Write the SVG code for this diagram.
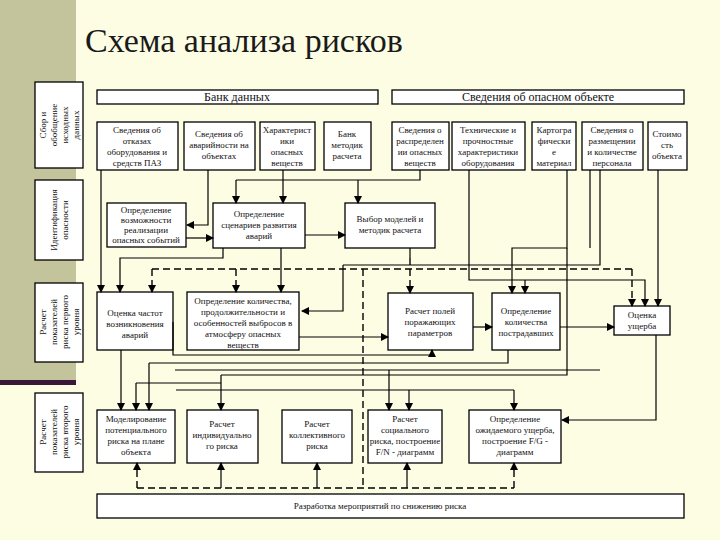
<svg xmlns="http://www.w3.org/2000/svg" width="720" height="540" viewBox="0 0 720 540">
<defs>
<marker id="ar" markerWidth="8" markerHeight="8" refX="7" refY="4" orient="auto" markerUnits="userSpaceOnUse"><path d="M0,0 L8,4 L0,8 Z" fill="#000"/></marker>
<style>
text{font-family:"Liberation Serif","Times New Roman","DejaVu Serif",serif}
.b{fill:#fff;stroke:#000;stroke-width:1.3}
.t{font-size:9px;fill:#111;text-anchor:middle}
.h{font-size:12px;fill:#111;text-anchor:middle}
.s{fill:none;stroke:#000;stroke-width:1.2}
.d{fill:none;stroke:#000;stroke-width:1.4;stroke-dasharray:7,4}
.a{marker-end:url(#ar)}
</style>
</defs>
<rect width="720" height="540" fill="#fdfde4"/>
<rect x="0" y="0" width="76" height="383" fill="#c4c49c"/>
<rect x="0" y="380" width="76" height="5" fill="#3a1838"/>
<text x="85" y="52" font-size="34" fill="#1a1a1a">Схема анализа рисков</text>
<g id="side">
<rect class="b" x="35" y="82" width="48" height="86"/>
<text class="t" transform="translate(59,125) rotate(-90)"><tspan x="0" y="-13">Сбор и</tspan><tspan x="0" y="-2">обобщение</tspan><tspan x="0" y="9">исходных</tspan><tspan x="0" y="20">данных</tspan></text>
<rect class="b" x="35" y="180" width="48" height="80"/>
<text class="t" transform="translate(59,220) rotate(-90)"><tspan x="0" y="-2">Идентификация</tspan><tspan x="0" y="9">опасности</tspan></text>
<rect class="b" x="35" y="283" width="48" height="79"/>
<text class="t" transform="translate(59,322) rotate(-90)"><tspan x="0" y="-13">Расчет</tspan><tspan x="0" y="-2">показателей</tspan><tspan x="0" y="9">риска первого</tspan><tspan x="0" y="20">уровня</tspan></text>
<rect class="b" x="35" y="393" width="48" height="79"/>
<text class="t" transform="translate(59,432) rotate(-90)"><tspan x="0" y="-13">Расчет</tspan><tspan x="0" y="-2">показателей</tspan><tspan x="0" y="9">риска второго</tspan><tspan x="0" y="20">уровня</tspan></text>
</g>
<g id="bank"><rect class="b" x="97" y="90" width="281" height="14"/><text class="h" x="237" y="101">Банк данных</text></g>
<g id="obj"><rect class="b" x="392" y="90" width="292" height="14"/><text class="h" x="538" y="101">Сведения об опасном объекте</text></g>
<g id="n1"><rect class="b" x="97" y="122" width="81" height="48"/><text class="t"><tspan x="137" y="133">Сведения об</tspan><tspan x="137" y="144">отказах</tspan><tspan x="137" y="155">оборудования и</tspan><tspan x="137" y="166">средств ПАЗ</tspan></text></g>
<g id="n2"><rect class="b" x="184" y="122" width="71" height="48"/><text class="t"><tspan x="219" y="137">Сведения об</tspan><tspan x="219" y="148">аварийности на</tspan><tspan x="219" y="159">объектах</tspan></text></g>
<g id="n3"><rect class="b" x="260" y="122" width="55" height="48"/><text class="t"><tspan x="287" y="133">Характерист</tspan><tspan x="287" y="144">ики</tspan><tspan x="287" y="155">опасных</tspan><tspan x="287" y="166">веществ</tspan></text></g>
<g id="n4"><rect class="b" x="324" y="122" width="47" height="48"/><text class="t"><tspan x="347" y="137">Банк</tspan><tspan x="347" y="148">методик</tspan><tspan x="347" y="159">расчета</tspan></text></g>
<g id="n5"><rect class="b" x="392" y="122" width="57" height="48"/><text class="t"><tspan x="420" y="133">Сведения о</tspan><tspan x="420" y="144">распределен</tspan><tspan x="420" y="155">ии опасных</tspan><tspan x="420" y="166">веществ</tspan></text></g>
<g id="n6"><rect class="b" x="452" y="122" width="73" height="48"/><text class="t"><tspan x="488" y="133">Технические и</tspan><tspan x="488" y="144">прочностные</tspan><tspan x="488" y="155">характеристики</tspan><tspan x="488" y="166">оборудования</tspan></text></g>
<g id="n7"><rect class="b" x="532" y="122" width="44" height="48"/><text class="t"><tspan x="554" y="133">Картогра</tspan><tspan x="554" y="144">фически</tspan><tspan x="554" y="155">е</tspan><tspan x="554" y="166">материал</tspan></text></g>
<g id="n8"><rect class="b" x="582" y="122" width="61" height="48"/><text class="t"><tspan x="612" y="133">Сведения о</tspan><tspan x="612" y="144">размещении</tspan><tspan x="612" y="155">и количестве</tspan><tspan x="612" y="166">персонала</tspan></text></g>
<g id="n9"><rect class="b" x="648" y="122" width="39" height="48"/><text class="t"><tspan x="667" y="137">Стоимо</tspan><tspan x="667" y="148">сть</tspan><tspan x="667" y="159">объекта</tspan></text></g>
<g id="j"><rect class="b" x="107" y="203" width="79" height="44"/><text class="t"><tspan x="146" y="213">Определение</tspan><tspan x="146" y="223">возможности</tspan><tspan x="146" y="233">реализации</tspan><tspan x="146" y="243">опасных событий</tspan></text></g>
<g id="k"><rect class="b" x="213" y="203" width="92" height="45"/><text class="t"><tspan x="259" y="217">Определение</tspan><tspan x="259" y="228">сценариев развития</tspan><tspan x="259" y="239">аварий</tspan></text></g>
<g id="l"><rect class="b" x="345" y="203" width="90" height="45"/><text class="t"><tspan x="390" y="222">Выбор моделей и</tspan><tspan x="390" y="233">методик расчета</tspan></text></g>
<g id="m"><rect class="b" x="97" y="292" width="76" height="58"/><text class="t"><tspan x="135" y="316">Оценка частот</tspan><tspan x="135" y="327">возникновения</tspan><tspan x="135" y="338">аварий</tspan></text></g>
<g id="n"><rect class="b" x="187" y="292" width="112" height="58"/><text class="t"><tspan x="243" y="304">Определение количества,</tspan><tspan x="243" y="315">продолжительности и</tspan><tspan x="243" y="326">особенностей выбросов в</tspan><tspan x="243" y="337">атмосферу опасных</tspan><tspan x="243" y="348">веществ</tspan></text></g>
<g id="o"><rect class="b" x="388" y="293" width="85" height="57"/><text class="t"><tspan x="430" y="314">Расчет полей</tspan><tspan x="430" y="325">поражающих</tspan><tspan x="430" y="336">параметров</tspan></text></g>
<g id="p"><rect class="b" x="492" y="293" width="68" height="57"/><text class="t"><tspan x="526" y="314">Определение</tspan><tspan x="526" y="325">количества</tspan><tspan x="526" y="336">пострадавших</tspan></text></g>
<g id="q"><rect class="b" x="614" y="306" width="56" height="29"/><text class="t"><tspan x="642" y="318">Оценка</tspan><tspan x="642" y="329">ущерба</tspan></text></g>
<g id="r"><rect class="b" x="97" y="410" width="78" height="53"/><text class="t"><tspan x="136" y="422">Моделирование</tspan><tspan x="136" y="433">потенциального</tspan><tspan x="136" y="444">риска на плане</tspan><tspan x="136" y="455">объекта</tspan></text></g>
<g id="s"><rect class="b" x="187" y="410" width="71" height="53"/><text class="t"><tspan x="222" y="427">Расчет</tspan><tspan x="222" y="438">индивидуально</tspan><tspan x="222" y="449">го риска</tspan></text></g>
<g id="t"><rect class="b" x="282" y="410" width="70" height="53"/><text class="t"><tspan x="317" y="427">Расчет</tspan><tspan x="317" y="438">коллективного</tspan><tspan x="317" y="449">риска</tspan></text></g>
<g id="u"><rect class="b" x="368" y="410" width="74" height="53"/><text class="t"><tspan x="405" y="422">Расчет</tspan><tspan x="405" y="433">социального</tspan><tspan x="405" y="444">риска, построение</tspan><tspan x="405" y="455">F/N - диаграмм</tspan></text></g>
<g id="v"><rect class="b" x="469" y="410" width="92" height="53"/><text class="t"><tspan x="515" y="422">Определение</tspan><tspan x="515" y="433">ожидаемого ущерба,</tspan><tspan x="515" y="444">построение F/G -</tspan><tspan x="515" y="455">диаграмм</tspan></text></g>
<g id="w"><rect class="b" x="97" y="494" width="587" height="24"/><text class="t" font-size="10" x="380" y="509">Разработка мероприятий по снижению риска</text></g>
<g id="connectors">
<path class="s a" d="M101,170 V292"/>
<path class="s a" d="M208,170 V225 H187"/>
<path class="s" d="M283,170 V180"/>
<path class="s a" d="M236,180 V203"/>
<path class="s a" d="M283,180 V203"/>
<path class="s a" d="M358,180 V203"/>
<path class="s" d="M236,180 H420 V170"/>
<path class="s a" d="M186,238 H213"/>
<path class="s a" d="M305,235 H345"/>
<path class="s a" d="M223,248 V258 H120 V292"/>
<path class="s a" d="M281,248 V292"/>
<path class="s" d="M410,248 V258"/>
<path class="d a" d="M410,258 V293"/>
<path class="d" d="M152,269 H632"/>
<path class="d a" d="M152,269 V292"/>
<path class="d a" d="M236,269 V292"/>
<path class="d a" d="M632,269 V306"/>
<path class="d" d="M363,269 V488"/>
<path class="s a" d="M567,170 V248 H512 V293"/>
<path class="s" d="M590,170 V248"/>
<path class="s a" d="M469,170 V280 H645 V306"/>
<path class="s a" d="M525,280 V293"/>
<path class="s a" d="M658,170 V306"/>
<path class="s a" d="M343,265 H600 V170 M343,265 V311 H302"/>
<path class="s a" d="M299,337 H388"/>
<path class="s a" d="M473,327 H492"/>
<path class="s a" d="M560,327 H614"/>
<path class="s a" d="M656,335 V420 H562"/>
<path class="s a" d="M121,350 V410"/>
<path class="s a" d="M173,322 V355 H432 V350"/>
<path class="s a" d="M149,363 V410"/>
<path class="s" d="M149,363 H508 V350"/>
<path class="s a" d="M136,383 V410"/>
<path class="s" d="M136,383 H221"/>
<path class="s a" d="M221,375 V410"/>
<path class="s" d="M221,375 H567 V248"/>
<path class="s a" d="M389,370 V410"/>
<path class="s" d="M175,370 H600"/>
<path class="s a" d="M409,390 V410"/>
<path class="s" d="M176,390 H514"/>
<path class="s a" d="M514,390 V410"/>
<path class="d" d="M137,488 H514"/>
<path class="d a" d="M137,488 V463"/>
<path class="s a" d="M221,488 V463"/>
<path class="s a" d="M317,488 V463"/>
<path class="s a" d="M407,488 V463"/>
<path class="d a" d="M514,488 V463"/>
</g>
</svg>
